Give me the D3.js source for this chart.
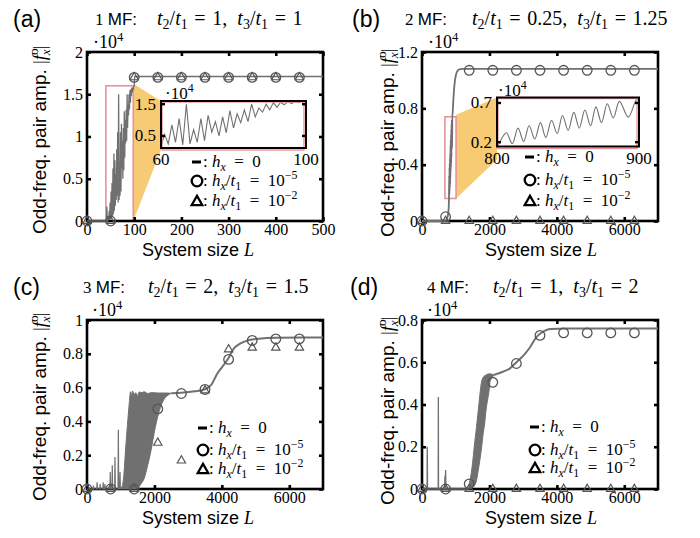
<!DOCTYPE html>
<html>
<head>
<meta charset="utf-8">
<script src="https://cdn.jsdelivr.net/npm/d3@7/dist/d3.min.js"></script>
<style>
  html, body { margin: 0; padding: 0; background: #fff; }
  text { white-space: pre; }
</style>
</head>
<body>
<script>
// ---------- data ----------
// marker system sizes
const aMarkL = [0, 50, 100, 150, 200, 250, 300, 350, 400, 450];
const aCircle = [0, 0, 1.70, 1.70, 1.70, 1.70, 1.70, 1.70, 1.70, 1.70];
const aTriangle = [0, 0, 1.70, 1.70, 1.70, 1.70, 1.70, 1.70, 1.70, 1.70];
// h_x = 0, L = 40 ... 100 (one value per L)
const aZigStart = 40;
const aZig = [0, 0, 0.17, 0, 0.02, 0.06, 0.01, 0.12, 0.02, 0.22, 0.02,
  0.35, 0.03, 0.45, 0.05, 0.62, 0.08, 0.80, 0.12, 0.72, 0.18,
  0.55, 0.25, 0.85, 0.30, 1.05, 0.22, 1.50, 0.25, 0.70, 0.30,
  1.05, 0.35, 1.15, 0.62, 0.95, 0.50, 1.10, 0.60, 1.30, 0.75,
  1.20, 0.92, 1.32, 0.95, 1.50, 1.10, 1.38, 1.25, 1.50, 1.32,
  1.55, 1.40, 1.56, 1.48, 1.58, 1.52, 1.58, 1.55, 1.59, 1.60];
const aTailL = [101, 500];
const aTail = [1.71, 1.71];
const aXTicks = [0, 100, 200, 300, 400, 500];
const aYTicks = [0, 0.5, 1, 1.5, 2];
const aYLabels = ["0", "0.5", "1", "1.5", "2"];
const aZoomBox = [40, 98, 0, 1.6];
const aInsetX = [60, 100];
const aInsetY = [0.12, 1.6];
const aInsetYTicks = [0.5, 1.5];
const aInsetYLabels = ["0.5", "1.5"];

const markL = [0, 700, 1400, 2100, 2800, 3500, 4200, 4900, 5600, 6300];
const bigXTicks = [0, 2000, 4000, 6000];

const bCircle = [0, 0.03, 1.07, 1.07, 1.07, 1.07, 1.07, 1.07, 1.07, 1.07];
const bTriangle = [0, 0, 0, 0, 0, 0, 0, 0, 0, 0];
const bLineL = [0, 600, 700, 760, 790, 800,
  806.6, 810.8, 814.8, 818.8, 822.6, 826.6, 830.6, 834.4, 838.4, 842.4,
  846.1, 850.1, 854.1, 857.9, 861.9, 865.9, 869.6, 873.6, 877.6, 881.9,
  886.1, 892.5, 898.8, 900,
  930, 960, 1000, 1050, 1100, 1200, 7000];
const bLineV = [0, 0, 0.004, 0.03, 0.09, 0.15,
  0.32, 0.18, 0.38, 0.21, 0.41, 0.24, 0.45, 0.26, 0.48, 0.31,
  0.54, 0.35, 0.58, 0.38, 0.61, 0.41, 0.65, 0.45, 0.69, 0.51,
  0.72, 0.52, 0.75, 0.74,
  0.86, 0.96, 1.03, 1.065, 1.077, 1.08, 1.08];
const bYTicks = [0, 0.4, 0.8, 1.2];
const bYLabels = ["0", "0.4", "0.8", "1.2"];
const bZoomBox = [680, 1010, 0.16, 0.74];
const bInsetX = [800, 900];
const bInsetY = [0.145, 0.77];
const bInsetYTicks = [0.2, 0.7];
const bInsetYLabels = ["0.2", "0.7"];

const cCircle = [0, 0, 0, 0.474, 0.565, 0.589, 0.767, 0.879, 0.888, 0.888];
const cTriangle = [0, 0, 0, 0.273, 0.168, 0.583, 0.826, 0.836, 0.836, 0.836];
const cPreL = [0, 180, 190, 200, 290, 300, 310, 380, 390, 400, 470, 480, 490, 520, 530, 540,
  680, 690, 700, 740, 750, 760, 820, 830, 840, 920, 930, 940, 970, 980, 990, 1000];
const cPreV = [0, 0, 0.02, 0, 0, 0.04, 0, 0, 0.03, 0, 0, 0.04, 0, 0, 0.03, 0,
  0, 0.1, 0, 0, 0.14, 0, 0, 0.19, 0, 0, 0.35, 0, 0, 0.1, 0, 0];
const cBandL = [1000, 1050, 1100, 1150, 1200, 1250, 1290, 1320, 1350, 1400, 1450, 1500,
  1550, 1600, 1700, 1800, 1900, 2000, 2100, 2200, 2300, 2400, 2500];
const cBandHi = [0, 0.02, 0.1, 0.25, 0.38, 0.5, 0.575, 0.55, 0.58, 0.56, 0.57, 0.55,
  0.575, 0.57, 0.575, 0.565, 0.57, 0.57, 0.568, 0.568, 0.568, 0.568, 0.566];
const cBandLo = [0, 0, 0, 0, 0, 0, 0, 0, 0, 0, 0, 0.005,
  0.015, 0.03, 0.065, 0.14, 0.23, 0.34, 0.43, 0.495, 0.535, 0.555, 0.566];
const cPostL = [2500, 2800, 3200, 3500, 3700, 3850, 4000, 4190, 4350, 4540, 4750, 4905, 5300, 5620, 7000];
const cPostV = [0.566, 0.569, 0.578, 0.59, 0.62, 0.678, 0.72, 0.772, 0.83, 0.86, 0.878, 0.885, 0.893, 0.895, 0.896];
const cYTicks = [0, 0.2, 0.4, 0.6, 0.8, 1];
const cYLabels = ["0", "0.2", "0.4", "0.6", "0.8", "1"];

const dCircle = [0, 0, 0.024, 0.505, 0.594, 0.727, 0.739, 0.739, 0.739, 0.739];
const dTriangle = [0, 0, 0, 0, 0, 0, 0, 0, 0, 0];
const dPreL = [0, 150, 155, 165, 480, 485, 490, 670, 680, 690, 700, 710, 1380];
const dPreV = [0, 0, 0.2, 0, 0, 0.435, 0, 0, 0.06, 0.01, 0.09, 0, 0];
const dBandL = [1380, 1400, 1475, 1570, 1600, 1670, 1770, 1820, 1850, 1900, 2000, 2020, 2120];
const dBandHi = [0, 0.02, 0.09, 0.23, 0.27, 0.374, 0.51, 0.53, 0.535, 0.54, 0.545, 0.545, 0.54];
const dBandLo = [0, 0, 0.005, 0.02, 0.03, 0.09, 0.2, 0.27, 0.3, 0.374, 0.48, 0.51, 0.535];
const dPostL = [2120, 2400, 2600, 2800, 3000, 3200, 3400, 3500, 3650, 3800, 4300, 7000];
const dPostV = [0.54, 0.555, 0.57, 0.6, 0.63, 0.67, 0.72, 0.735, 0.75, 0.757, 0.76, 0.76];
const dYTicks = [0, 0.2, 0.4, 0.6, 0.8];
const dYLabels = ["0", "0.2", "0.4", "0.6", "0.8"];

// ---------- styling ----------
const SERIF = "'Liberation Serif', Tinos, 'Times New Roman', 'DejaVu Serif', 'Noto Serif', serif";
const SANS = "'Liberation Sans', Arial, sans-serif";
const LINE = "#707070";
const MARK = "#555555";
const PINK = "#e8939b";
const ORANGE = "#f6cb74";
const SP = "\u2004";   // math spacing around relations

const svg = d3.select("body").append("svg").attr("width", 700).attr("height", 538);

// rich text: parts are [string, kind, dx]; kind letters: i italic, s sans, b subscript, p superscript
function rich(parent, x, y, parts, size, anchor) {
  const t = parent.append("text").attr("x", x).attr("y", y)
    .style("font-size", size + "px").style("font-family", SERIF).attr("fill", "#000");
  if (anchor) t.attr("text-anchor", anchor);
  let shift = 0;
  parts.forEach(([s, k, dx]) => {
    let target = 0, fs = size;
    if (k.includes("b")) { target = size * 0.22; fs = size * 0.7; }
    if (k.includes("p")) { target = -size * 0.4; fs = size * 0.7; }
    const ts = t.append("tspan").attr("dy", target - shift)
      .style("font-size", fs + "px")
      .style("font-family", k.includes("s") ? SANS : SERIF)
      .style("font-style", k.includes("i") ? "italic" : "normal")
      .text(s);
    if (dx) ts.attr("dx", dx);
    shift = target;
  });
  return t;
}

function panel(cfg) {
  const g = svg.append("g");
  const x = d3.scaleLinear().domain(cfg.xDomain).range([cfg.left, cfg.right]);
  const y = d3.scaleLinear().domain(cfg.yDomain).range([cfg.bottom, cfg.top]);

  // zoom connector and box
  if (cfg.zoom) {
    const z = cfg.zoom, ins = cfg.inset;
    g.append("path")
      .attr("d", d3.line()([[x(z.box[1]), y(z.box[3]) - 2], [ins.left, ins.top],
        [ins.left, ins.bottom + z.drop], [x(z.box[1]), y(z.box[2])]]))
      .attr("fill", ORANGE).attr("stroke", "none");
    g.append("rect").attr("x", x(z.box[0])).attr("y", y(z.box[3]))
      .attr("width", x(z.box[1]) - x(z.box[0])).attr("height", y(z.box[2]) - y(z.box[3]))
      .attr("fill", "none").attr("stroke", PINK).attr("stroke-width", 1.6);
  }

  // frame and inward ticks
  g.append("rect").attr("x", cfg.left).attr("y", cfg.top)
    .attr("width", cfg.right - cfg.left).attr("height", cfg.bottom - cfg.top)
    .attr("fill", "none").attr("stroke", "#000").attr("stroke-width", 2.6);
  const axes = [
    [d3.axisBottom(x).tickValues(cfg.xTicks).tickSize(-4).tickPadding(3).tickFormat(d3.format("d")), `translate(0,${cfg.bottom})`],
    [d3.axisTop(x).tickValues(cfg.xTicks).tickSize(-4).tickFormat(""), `translate(0,${cfg.top})`],
    [d3.axisLeft(y).tickValues(cfg.yTicks).tickSize(-4).tickPadding(4).tickFormat((d, i) => cfg.yLabels[i]), `translate(${cfg.left},0)`],
    [d3.axisRight(y).tickValues(cfg.yTicks).tickSize(-4).tickFormat(""), `translate(${cfg.right},0)`]
  ];
  axes.forEach(([ax, tr]) => {
    const a = g.append("g").attr("transform", tr).call(ax);
    a.attr("font-family", null);
    a.select(".domain").remove();
    a.selectAll(".tick line").attr("stroke", "#000").attr("stroke-width", 2.6);
    a.selectAll(".tick text").style("font-family", SERIF).style("font-size", "16px").attr("fill", "#000");
  });

  // h_x = 0 curve
  cfg.lines.forEach(ln => {
    g.append("path").datum(ln.L.map((L, i) => [L, ln.v[i]]))
      .attr("d", d3.line().x(d => x(d[0])).y(d => y(d[1])).curve(ln.curve || d3.curveLinear))
      .attr("fill", "none").attr("stroke", LINE).attr("stroke-width", ln.w || 1.4);
  });
  (cfg.bands || []).forEach(bd => {
    g.append("path").datum(bd.L.map((L, i) => [L, bd.lo[i], bd.hi[i]]))
      .attr("d", d3.area().x(d => x(d[0])).y0(d => y(d[1])).y1(d => y(d[2])).curve(d3.curveMonotoneX))
      .attr("fill", LINE).attr("stroke", LINE).attr("stroke-width", 1);
  });

  // markers
  const circ = cfg.markL.map((L, i) => [L, cfg.circle[i]]);
  const tri = cfg.markL.map((L, i) => [L, cfg.triangle[i]]);
  g.selectAll(null).data(circ).join("circle")
    .attr("cx", d => x(d[0])).attr("cy", d => y(d[1])).attr("r", 4.8)
    .attr("fill", "none").attr("stroke", MARK).attr("stroke-width", 1.3);
  g.selectAll(null).data(tri).join("path")
    .attr("transform", d => `translate(${x(d[0])},${y(d[1])})`)
    .attr("d", d3.symbol(d3.symbolTriangle, 30)())
    .attr("fill", "none").attr("stroke", MARK).attr("stroke-width", 1.2);

  // inset
  if (cfg.inset) {
    const ins = cfg.inset;
    const ix = d3.scaleLinear().domain(ins.xDomain).range([ins.left, ins.right]);
    const iy = d3.scaleLinear().domain(ins.yDomain).range([ins.bottom, ins.top]);
    g.append("rect").attr("x", ins.left).attr("y", ins.top)
      .attr("width", ins.right - ins.left).attr("height", ins.bottom - ins.top).attr("fill", "#fff");
    const clipId = "clip" + cfg.id;
    g.append("clipPath").attr("id", clipId).append("rect")
      .attr("x", ins.left).attr("y", ins.top).attr("width", ins.right - ins.left).attr("height", ins.bottom - ins.top);
    g.append("path").datum(ins.L.map((L, i) => [L, ins.v[i]]))
      .attr("clip-path", `url(#${clipId})`)
      .attr("d", d3.line().x(d => ix(d[0])).y(d => iy(d[1])).curve(ins.curve || d3.curveLinear))
      .attr("fill", "none").attr("stroke", LINE).attr("stroke-width", 1.1);
    g.append("rect").attr("x", ins.left + 1).attr("y", ins.top + 1)
      .attr("width", ins.right - ins.left - 3).attr("height", ins.bottom - ins.top + 1)
      .attr("fill", "none").attr("stroke", PINK).attr("stroke-width", 1.4);
    g.append("rect").attr("x", ins.left).attr("y", ins.top)
      .attr("width", ins.right - ins.left).attr("height", ins.bottom - ins.top)
      .attr("fill", "none").attr("stroke", "#000").attr("stroke-width", 2);
    ins.yTicks.forEach((t, i) => {
      [[ins.left, 4], [ins.right, -4]].forEach(([px, len]) => {
        g.append("line").attr("x1", px).attr("x2", px + len).attr("y1", iy(t)).attr("y2", iy(t))
          .attr("stroke", "#000").attr("stroke-width", 2.4);
      });
      g.append("text").attr("x", ins.left - 5).attr("y", iy(t)).attr("dy", "0.32em")
        .attr("text-anchor", "end").style("font-family", SERIF).style("font-size", "17px").text(ins.yLabels[i]);
    });
    ins.xDomain.forEach(t => {
      g.append("text").attr("x", ix(t)).attr("y", ins.bottom + 17).attr("text-anchor", "middle")
        .style("font-family", SERIF).style("font-size", "17px").text(t);
    });
    rich(g, ins.expX, ins.expY, [["\u00b710", ""], ["4", "p"]], 17);
  }

  // legend
  const lg = cfg.legend;
  g.append("rect").attr("x", lg.x - 5).attr("y", lg.y0 - 1.5).attr("width", 9).attr("height", 3).attr("fill", "#000");
  g.append("circle").attr("cx", lg.x).attr("cy", lg.y1).attr("r", 5.3)
    .attr("fill", "none").attr("stroke", "#000").attr("stroke-width", 2.3);
  g.append("path").attr("transform", `translate(${lg.x},${lg.y2 + 1})`)
    .attr("d", d3.symbol(d3.symbolTriangle, 48)())
    .attr("fill", "none").attr("stroke", "#000").attr("stroke-width", 2.3);
  const tx = lg.x + 6;
  const eq = "\u2002=\u2002";
  rich(g, tx, lg.y0 + 5, [[": ", ""], ["h", "i"], ["x", "ib"], [eq + "0", ""]], 17);
  rich(g, tx, lg.y1 + 5, [[": ", ""], ["h", "i"], ["x", "ib"], ["/", ""], ["t", "i"], ["1", "b"], [eq + "10", ""], ["\u22125", "p"]], 17);
  rich(g, tx, lg.y2 + 5, [[": ", ""], ["h", "i"], ["x", "ib"], ["/", ""], ["t", "i"], ["1", "b"], [eq + "10", ""], ["\u22122", "p"]], 17);

  // titles and labels
  const teq = SP + "=" + SP;
  g.append("text").attr("x", cfg.tag[0]).attr("y", cfg.tag[1]).style("font-family", SANS)
    .style("font-size", "23px").text(cfg.tagText);
  rich(g, cfg.title[0], cfg.title[1], [[cfg.titleNum + " ", ""], ["MF:", "s"]], 17);
  rich(g, cfg.title[2], cfg.title[1], [
    ["t", "i"], ["2", "b"], ["/", ""], ["t", "i"], ["1", "b"], [teq + cfg.t2 + "," + "\u2002", ""],
    ["t", "i"], ["3", "b"], ["/", ""], ["t", "i"], ["1", "b"], [teq + cfg.t3, ""]], 20);
  rich(g, cfg.exp[0], cfg.exp[1], [["\u00b710", ""], ["4", "p"]], 18);
  rich(g, cfg.xLab[0], cfg.xLab[1], [["System size ", "s"], ["L", "i"]], 18, "middle");
  const yl = g.append("g").attr("transform", `translate(${cfg.yLab[0]},${cfg.yLab[1]}) rotate(-90)`);
  rich(yl, 0, 0, [["Odd-freq. pair amp. ", "s"], ["|", ""], ["f", "i"], ["o", "p"], ["x", "ib", -7], ["|", ""]], 19);
}

const common = { markL: markL, xDomain: [0, 7000], xTicks: bigXTicks };

panel({
  id: "a", left: 87, right: 323, top: 52, bottom: 221,
  xDomain: [0, 500], yDomain: [0, 2], xTicks: aXTicks, yTicks: aYTicks, yLabels: aYLabels,
  markL: aMarkL, circle: aCircle, triangle: aTriangle,
  lines: [
    { L: [0].concat(aZig.map((v, i) => aZigStart + i), aTailL), v: [0].concat(aZig, aTail), w: 1.3 }
  ],
  zoom: { box: aZoomBox, drop: 2 },
  inset: { left: 161, right: 306, top: 101, bottom: 148, xDomain: aInsetX, yDomain: aInsetY,
    yTicks: aInsetYTicks, yLabels: aInsetYLabels,
    L: aZig.map((v, i) => aZigStart + i).concat(aTailL), v: aZig.concat(aTail),
    expX: 165, expY: 99 },
  legend: { x: 197, y0: 162, y1: 181, y2: 201 },
  tag: [13, 27], tagText: "(a)", title: [95, 25, 157], titleNum: "1", t2: "1", t3: "1",
  exp: [93, 48], xLab: [198, 256], yLab: [46, 234]
});

panel(Object.assign({}, common, {
  id: "b", left: 422, right: 658, top: 52, bottom: 221,
  yDomain: [0, 1.2], yTicks: bYTicks, yLabels: bYLabels,
  circle: bCircle, triangle: bTriangle,
  lines: [{ L: bLineL, v: bLineV, curve: d3.curveMonotoneX, w: 1.8 }],
  zoom: { box: bZoomBox, drop: 13 },
  inset: { left: 497, right: 639, top: 97.5, bottom: 146.5, xDomain: bInsetX, yDomain: bInsetY,
    yTicks: bInsetYTicks, yLabels: bInsetYLabels, L: bLineL, v: bLineV, curve: d3.curveMonotoneX,
    expX: 498, expY: 96 },
  legend: { x: 530, y0: 157, y1: 180, y2: 201 },
  tag: [352, 27], tagText: "(b)", title: [405, 25, 472], titleNum: "2", t2: "0.25", t3: "1.25",
  exp: [428, 48], xLab: [541, 256], yLab: [394, 237]
}));

panel(Object.assign({}, common, {
  id: "c", left: 87, right: 323, top: 320, bottom: 489,
  yDomain: [0, 1], yTicks: cYTicks, yLabels: cYLabels,
  circle: cCircle, triangle: cTriangle,
  lines: [
    { L: cPreL, v: cPreV, w: 1.2 },
    { L: cPostL, v: cPostV, curve: d3.curveMonotoneX, w: 2 }
  ],
  bands: [{ L: cBandL, lo: cBandLo, hi: cBandHi }],
  legend: { x: 203, y0: 428, y1: 450, y2: 469 },
  tag: [13, 295], tagText: "(c)", title: [83, 293, 148], titleNum: "3", t2: "2", t3: "1.5",
  exp: [92, 316], xLab: [198, 524], yLab: [46, 501]
}));

panel(Object.assign({}, common, {
  id: "d", left: 422, right: 658, top: 320, bottom: 489,
  yDomain: [0, 0.8], yTicks: dYTicks, yLabels: dYLabels,
  circle: dCircle, triangle: dTriangle,
  lines: [
    { L: dPreL, v: dPreV, w: 1.3 },
    { L: dPostL, v: dPostV, curve: d3.curveMonotoneX, w: 2 }
  ],
  bands: [{ L: dBandL, lo: dBandLo, hi: dBandHi }],
  legend: { x: 535, y0: 427, y1: 450, y2: 468 },
  tag: [350, 295], tagText: "(d)", title: [427, 293, 493], titleNum: "4", t2: "1", t3: "2",
  exp: [427, 316], xLab: [541, 524], yLab: [394, 505]
}));
</script>
</body>
</html>
